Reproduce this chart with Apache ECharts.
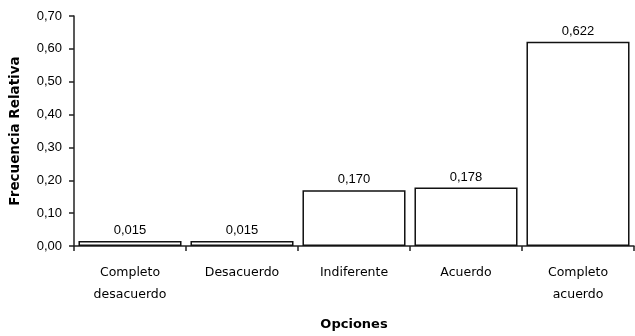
<!DOCTYPE html>
<html>
<head>
<meta charset="utf-8">
<script src="https://cdn.jsdelivr.net/npm/echarts@6/dist/echarts.min.js"></script>
<style>
  html, body { margin: 0; padding: 0; background: #fff; }
  #chart { width: 635px; height: 336px; }
</style>
</head>
<body>
<div id="chart"></div>
<script>
// categories and relative frequencies
var categories = ['Completo\ndesacuerdo', 'Desacuerdo', 'Indiferente', 'Acuerdo', 'Completo\nacuerdo'];
var values = [0.015, 0.015, 0.170, 0.178, 0.622];
var yTicks = [0, 0.1, 0.2, 0.3, 0.4, 0.5, 0.6, 0.7];

var myChart = echarts.init(document.getElementById('chart'));

// comma as decimal separator, like the original
function comma(v, d) {
    return v.toFixed(d).replace('.', ',');
}

var option = {
    animation: false,
    grid: {
        left: 71,
        right: 1,
        top: 16,
        bottom: 80
    },
    xAxis: {
        type: 'category',
        data: categories,
        name: 'Opciones',
        nameLocation: 'middle',
        nameGap: 72,
        nameTextStyle: {
            fontFamily: 'DejaVu Sans',
            fontWeight: 'bold',
            fontSize: 13,
            color: '#000'
        },
        axisLine: { lineStyle: { color: '#222', width: 1.5 } },
        axisTick: { show: true, length: 5, lineStyle: { color: '#222', width: 1.5 } },
        axisLabel: {
            margin: 16,
            lineHeight: 22,
            fontFamily: 'DejaVu Sans',
            fontSize: 12.5,
            color: '#000'
        }
    },
    yAxis: {
        type: 'value',
        min: yTicks[0],
        max: yTicks[yTicks.length - 1],
        interval: 0.1,
        name: 'Frecuencia Relativa',
        nameLocation: 'middle',
        nameGap: 52,
        nameTextStyle: {
            fontFamily: 'DejaVu Sans',
            fontWeight: 'bold',
            fontSize: 13.5,
            color: '#000'
        },
        splitLine: { show: false },
        axisLine: { show: true, lineStyle: { color: '#222', width: 1.5 } },
        axisTick: { show: true, length: 5, lineStyle: { color: '#222', width: 1.5 } },
        axisLabel: {
            margin: 12,
            fontFamily: 'Liberation Sans',
            fontSize: 13,
            color: '#000',
            formatter: function (v) { return comma(v, 2); }
        }
    },
    series: [
        {
            type: 'bar',
            data: values,
            barCategoryGap: '8%',
            itemStyle: {
                color: '#fff',
                borderColor: '#111',
                borderWidth: 1.5
            },
            label: {
                show: true,
                position: 'top',
                distance: 4,
                fontFamily: 'Liberation Sans',
                fontSize: 13,
                color: '#000',
                formatter: function (p) { return comma(p.value, 3); }
            }
        }
    ]
};

option && myChart.setOption(option);
</script>
</body>
</html>
